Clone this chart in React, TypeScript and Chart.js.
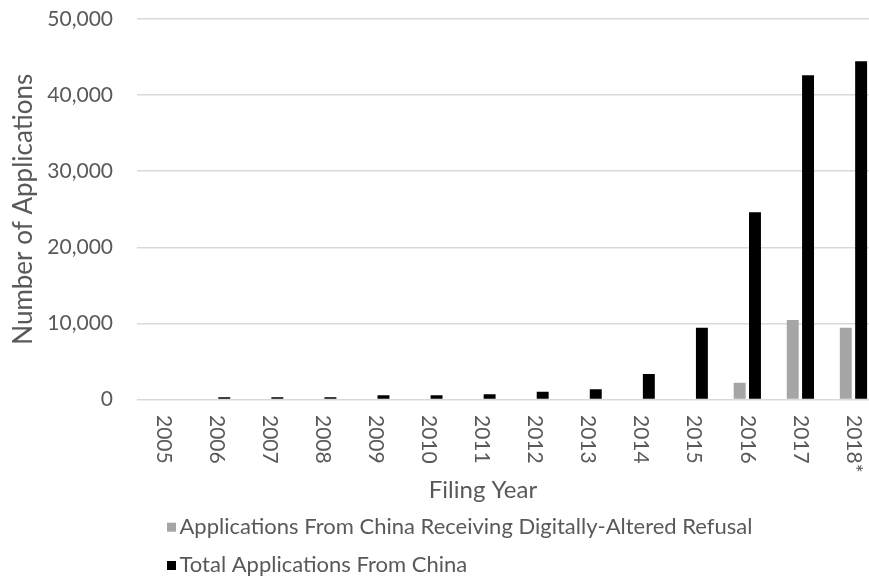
import React, { useEffect, useRef } from "react";
import { Chart, registerables } from "chart.js";

Chart.register(...registerables);

const years = ["2005", "2006", "2007", "2008", "2009", "2010", "2011", "2012", "2013", "2014", "2015", "2016", "2017", "2018*"];
const refusalApps = [0, 0, 0, 0, 0, 0, 0, 0, 0, 0, 0, 2200, 10450, 9430];
const totalApps = [0, 300, 300, 300, 550, 550, 680, 1020, 1340, 3350, 9430, 24600, 42600, 44440];
const seriesLabels = ["Applications From China Receiving Digitally-Altered Refusal", "Total Applications From China"];
const yMax = 50000;
const yStep = 10000;
const xTitle = "Filing Year";
const yTitle = "Number of Applications";

const TEXT = "#595959";
const FONT = "Lato";

const overlay = {
  id: "overlay",
  afterDraw(chart: any) {
    const { ctx, chartArea, scales } = chart;
    const xs = scales.x;
    ctx.save();
    ctx.fillStyle = TEXT;
    ctx.font = `21px ${FONT}`;
    ctx.textAlign = "left";
    ctx.textBaseline = "middle";
    years.forEach((lab, i) => {
      const x = xs.getPixelForValue(i);
      ctx.save();
      ctx.translate(x, chartArea.bottom + 15.5);
      ctx.rotate(Math.PI / 2);
      ctx.fillText(lab, 0, 0);
      ctx.restore();
    });
    ctx.font = `24px ${FONT}`;
    ctx.textAlign = "center";
    ctx.textBaseline = "alphabetic";
    ctx.fillText(xTitle, 483, 498);
    ctx.font = `22px ${FONT}`;
    ctx.textAlign = "left";
    chart.data.datasets.forEach((ds: any, i: number) => {
      const y = 522.7 + i * 38.3;
      ctx.fillStyle = ds.backgroundColor;
      ctx.fillRect(167, y, 9, 9);
      ctx.fillStyle = TEXT;
      ctx.fillText(ds.label, 179.5, y + 11);
    });
    ctx.restore();
  },
};

export default function App() {
  const ref = useRef<HTMLCanvasElement>(null);
  useEffect(() => {
    if (!ref.current) return;
    const chart = new Chart(ref.current, {
      type: "bar",
      data: {
        labels: years,
        datasets: [
          {
            label: seriesLabels[0],
            data: refusalApps,
            backgroundColor: "#a5a5a5",
            borderWidth: 0,
            categoryPercentage: 0.577,
            barPercentage: 0.78,
          },
          {
            label: seriesLabels[1],
            data: totalApps,
            backgroundColor: "#000000",
            borderWidth: 0,
            categoryPercentage: 0.577,
            barPercentage: 0.78,
          },
        ],
      },
      options: {
        responsive: false,
        animation: false,
        layout: { padding: { top: 19, right: 10, bottom: 0, left: 0 } },
        plugins: {
          legend: { display: false },
          tooltip: { enabled: false },
        },
        scales: {
          x: {
            grid: { display: false, drawTicks: false },
            border: { display: false },
            ticks: { display: false },
            afterFit: (scale: any) => {
              scale.height = 178.5;
            },
          },
          y: {
            min: 0,
            max: yMax,
            ticks: {
              stepSize: yStep,
              padding: 24,
              color: TEXT,
              font: { family: FONT, size: 21 },
              callback: (v: any) => Number(v).toLocaleString("en-US"),
            },
            grid: { color: "#d9d9d9", lineWidth: 1.5, drawTicks: false },
            border: { display: false },
            title: {
              display: true,
              text: yTitle,
              color: TEXT,
              font: { family: FONT, size: 26 },
              padding: { top: 8, bottom: 0 },
            },
            afterFit: (scale: any) => {
              scale.width = 137;
              scale.paddingTop = 0;
              scale.paddingBottom = 0;
            },
          },
        },
      },
      plugins: [overlay],
    });
    return () => chart.destroy();
  }, []);
  return (
    <div style={{ position: "fixed", left: 0, top: 0, width: 869, height: 578, overflow: "hidden", background: "#fff" }}>
      <canvas ref={ref} width={890} height={578} style={{ width: 890, height: 578, display: "block" }} />
    </div>
  );
}
